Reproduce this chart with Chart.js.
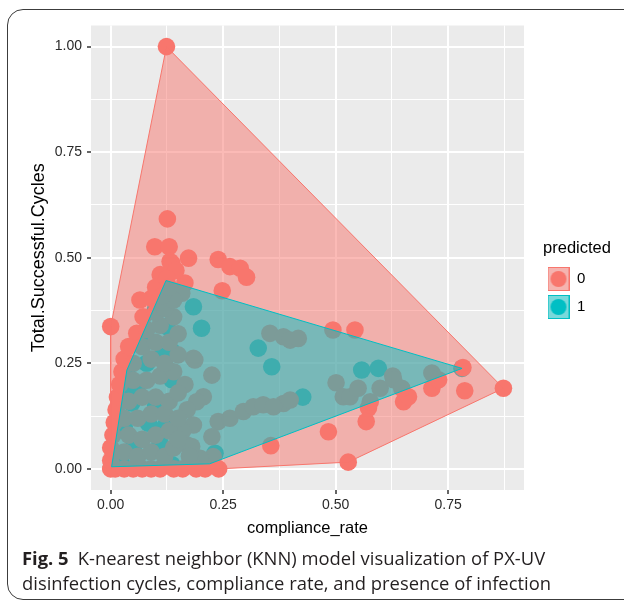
<!DOCTYPE html>
<html>
<head>
<meta charset="utf-8">
<script src="https://cdn.jsdelivr.net/npm/chart.js@4/dist/chart.umd.min.js"></script>
<style>
    body { margin: 0; background: #fff; }
    .page { position: relative; width: 624px; height: 605px; overflow: hidden; }
    .frame {
        position: absolute; left: 7px; top: 9px; width: 700px; height: 591px;
        border: 1.5px solid #3c3c3c; border-radius: 16px 0 0 16px; box-sizing: border-box;
    }
    #knnChart { position: absolute; left: 0; top: 0; }
    .caption {
        position: absolute; left: 22px; top: 545px;
        font-family: "Open Sans", "Noto Sans", sans-serif; font-size: 18.4px; line-height: 25px;
        color: #231f20; white-space: nowrap;
    }
    .caption b { font-weight: 700; }
</style>
</head>
<body>
<div class="page">
    <div class="frame"></div>
    <canvas id="knnChart" width="624" height="605"></canvas>
    <div class="caption"><b>Fig. 5</b>&ensp;K-nearest neighbor (KNN) model visualization of PX-UV<br>disinfection cycles, compliance rate, and presence of infection</div>
</div>
<script>
// Axis ticks
const xTicks = [0, 0.125, 0.25, 0.375, 0.5, 0.625, 0.75, 0.875];
const xTickLabels = ['0.00', '', '0.25', '', '0.50', '', '0.75', ''];
const yTicks = [0, 0.125, 0.25, 0.375, 0.5, 0.625, 0.75, 0.875, 1];
const yTickLabels = ['0.00', '', '0.25', '', '0.50', '', '0.75', '', '1.00'];

// Classes
const classes = ['0', '1'];
const classColors = ['#F8766D', '#00BFC4'];

// predicted = 0  [compliance_rate, Total.Successful.Cycles]
const predicted0 = [
    [0.124, 1.0], [0.126, 0.592], [0.098, 0.526], [0.13, 0.526], [0.132, 0.491], [0.136, 0.487],
    [0.173, 0.499], [0.239, 0.496], [0.265, 0.479], [0.288, 0.475], [0.302, 0.454], [0.165, 0.44],
    [0.248, 0.422], [0.091, 0.404], [0.065, 0.40], [0.072, 0.36], [0.0, 0.337], [0.058, 0.321],
    [0.11, 0.46], [0.145, 0.47], [0.1, 0.43], [0.125, 0.451],
    [0.543, 0.329], [0.714, 0.191], [0.787, 0.185], [0.873, 0.191], [0.651, 0.159], [0.662, 0.171],
    [0.573, 0.144], [0.568, 0.112], [0.484, 0.088], [0.528, 0.016], [0.356, 0.055],
    [0.494, 0.329], [0.354, 0.321], [0.384, 0.313], [0.399, 0.305], [0.417, 0.309], [0.501, 0.204],
    [0.517, 0.171], [0.532, 0.171], [0.55, 0.191], [0.577, 0.159], [0.599, 0.191], [0.627, 0.22],
    [0.629, 0.211], [0.647, 0.191], [0.714, 0.227], [0.729, 0.211], [0.783, 0.24], [0.384, 0.155],
    [0.184, 0.262], [0.225, 0.222], [0.206, 0.171], [0.191, 0.159], [0.184, 0.104], [0.239, 0.112],
    [0.265, 0.12], [0.295, 0.136], [0.317, 0.147], [0.339, 0.152], [0.362, 0.147], [0.399, 0.163],
    [0.225, 0.076], [0.169, 0.057], [0.228, 0.029], [0.199, 0.025], [0.158, 0.416], [0.187, 0.258],
    [0.18, 0.053], [0.165, 0.2], [0.17, 0.14], [0.16, 0.09], [0.175, 0.03],
    [0.0, 0.0], [0.0, 0.02], [0.0, 0.05], [0.005, 0.08], [0.008, 0.11], [0.012, 0.14], [0.015, 0.17],
    [0.02, 0.2], [0.025, 0.23], [0.03, 0.26], [0.04, 0.29],
    [0.01, 0.0], [0.03, 0.0], [0.05, 0.0], [0.07, 0.0], [0.09, 0.0], [0.11, 0.0], [0.14, 0.0],
    [0.16, 0.0], [0.19, 0.0], [0.21, 0.0], [0.24, 0.0],
    [0.03, 0.04], [0.06, 0.03], [0.09, 0.04], [0.12, 0.03], [0.14, 0.05],
    [0.04, 0.08], [0.07, 0.07], [0.1, 0.08], [0.13, 0.09], [0.15, 0.07],
    [0.03, 0.12], [0.06, 0.12], [0.09, 0.13], [0.12, 0.13], [0.15, 0.12],
    [0.04, 0.16], [0.07, 0.17], [0.1, 0.17], [0.13, 0.16], [0.15, 0.18],
    [0.05, 0.21], [0.08, 0.21], [0.11, 0.22], [0.14, 0.23],
    [0.05, 0.25], [0.09, 0.26], [0.12, 0.25], [0.15, 0.27],
    [0.07, 0.29], [0.1, 0.3], [0.13, 0.3], [0.15, 0.32],
    [0.08, 0.33], [0.11, 0.34], [0.14, 0.36],
    [0.1, 0.37], [0.12, 0.38], [0.14, 0.4],
    [0.115, 0.41], [0.13, 0.43]
];

// predicted = 1
const predicted1 = [
    [0.002, 0.005], [0.036, 0.234], [0.123, 0.446], [0.781, 0.238], [0.22, 0.012],
    [0.202, 0.333], [0.328, 0.286], [0.358, 0.242], [0.558, 0.234], [0.595, 0.238], [0.427, 0.17],
    [0.113, 0.266], [0.136, 0.211], [0.039, 0.179], [0.047, 0.156], [0.125, 0.337], [0.084, 0.108],
    [0.184, 0.384], [0.024, 0.013], [0.232, 0.037], [0.136, 0.01], [0.136, 0.278], [0.06, 0.2],
    [0.07, 0.3], [0.1, 0.38], [0.03, 0.1], [0.05, 0.05], [0.1, 0.15], [0.11, 0.06], [0.15, 0.42],
    [0.08, 0.25], [0.02, 0.03], [0.12, 0.1]
];

const toXY = pts => pts.map(([x, y]) => ({ x, y }));

// Convex hull (monotone chain), closed ring
function convexHull(pts) {
    const p = toXY(pts).sort((a, b) => a.x - b.x || a.y - b.y);
    const cross = (o, a, b) => (a.x - o.x) * (b.y - o.y) - (a.y - o.y) * (b.x - o.x);
    const lower = [];
    const upper = [];
    p.forEach(q => {
        while (lower.length >= 2 && cross(lower[lower.length - 2], lower[lower.length - 1], q) <= 0) lower.pop();
        lower.push(q);
    });
    p.slice().reverse().forEach(q => {
        while (upper.length >= 2 && cross(upper[upper.length - 2], upper[upper.length - 1], q) <= 0) upper.pop();
        upper.push(q);
    });
    lower.pop();
    upper.pop();
    const ring = lower.concat(upper);
    ring.push(ring[0]);
    return ring;
}

function alpha(hex, a) {
    const n = parseInt(hex.slice(1), 16);
    return `rgba(${(n >> 16) & 255}, ${(n >> 8) & 255}, ${n & 255}, ${a})`;
}

// Legend key: polygon box with a dot on top
function keyImage(color) {
    const c = document.createElement('canvas');
    c.width = 22;
    c.height = 24;
    const g = c.getContext('2d');
    g.fillStyle = '#F2F2F2';
    g.fillRect(0, 0, 22, 24);
    g.fillStyle = alpha(color, 0.5);
    g.fillRect(0.5, 0.5, 21, 23);
    g.strokeStyle = color;
    g.lineWidth = 1;
    g.strokeRect(0.5, 0.5, 21, 23);
    g.beginPath();
    g.arc(11, 12, 8, 0, Math.PI * 2);
    g.fillStyle = color;
    g.fill();
    return c;
}

const sans = '"Liberation Sans", Arial, sans-serif';
const textColor = '#2a2a2a';

const panelBg = {
    id: 'panelBg',
    beforeDraw(chart) {
        const { ctx, chartArea: a } = chart;
        ctx.save();
        ctx.fillStyle = '#EBEBEB';
        ctx.fillRect(a.left, a.top, a.width, a.height);
        ctx.restore();
    }
};

// push the legend away from the panel like ggplot does
const legendNudge = {
    id: 'legendNudge',
    afterLayout(chart) {
        const lg = chart.legend;
        lg.left = 534.5;
        lg.width = 85;
        lg.right = lg.left + lg.width;
    }
};

const pointSet = (i, order) => ({
    type: 'scatter',
    label: classes[i],
    data: toXY(i === 0 ? predicted0 : predicted1),
    backgroundColor: classColors[i],
    borderWidth: 0,
    pointRadius: 8.8,
    order
});

const hullSet = (i, order) => ({
    type: 'line',
    label: 'hull ' + classes[i],
    data: convexHull(i === 0 ? predicted0 : predicted1),
    borderColor: classColors[i],
    borderWidth: 1,
    backgroundColor: alpha(classColors[i], 0.5),
    fill: 'shape',
    pointRadius: 0,
    tension: 0,
    order
});

const isMajorX = c => !!xTickLabels[c.index];
const isMajorY = c => !!yTickLabels[c.index];

new Chart(document.getElementById('knnChart'), {
    type: 'scatter',
    data: {
        datasets: [hullSet(1, 0), hullSet(0, 1), pointSet(0, 2), pointSet(1, 3)]
    },
    options: {
        responsive: false,
        animation: false,
        devicePixelRatio: 1,
        layout: { padding: { left: 28.2, top: 25.5, right: 45, bottom: 67.1 } },
        scales: {
            x: {
                type: 'linear',
                min: -0.04375,
                max: 0.91875,
                afterBuildTicks: s => { s.ticks = xTicks.map(v => ({ value: v })); },
                afterFit: s => { s.height = 47.9; },
                border: { display: false },
                grid: {
                    color: '#FFFFFF',
                    lineWidth: c => isMajorX(c) ? 2 : 1,
                    tickLength: 4,
                    tickWidth: 1.5,
                    tickColor: c => isMajorX(c) ? '#333333' : 'rgba(0,0,0,0)'
                },
                ticks: {
                    autoSkip: false,
                    maxRotation: 0,
                    padding: 3,
                    color: textColor,
                    font: { family: sans, size: 14 },
                    callback: (v, i) => xTickLabels[i]
                },
                title: {
                    display: true,
                    text: 'compliance_rate',
                    color: '#000000',
                    padding: 0,
                    font: { family: sans, size: 16.5 }
                }
            },
            y: {
                type: 'linear',
                min: -0.05,
                max: 1.05,
                afterBuildTicks: s => { s.ticks = yTicks.map(v => ({ value: v })); },
                afterFit: s => { s.width = 62.8; },
                border: { display: false },
                grid: {
                    color: '#FFFFFF',
                    lineWidth: c => isMajorY(c) ? 2 : 1,
                    tickLength: 4,
                    tickWidth: 1.5,
                    tickColor: c => isMajorY(c) ? '#333333' : 'rgba(0,0,0,0)'
                },
                ticks: {
                    autoSkip: false,
                    padding: 5,
                    color: textColor,
                    font: { family: sans, size: 14 },
                    callback: (v, i) => yTickLabels[i]
                },
                title: {
                    display: true,
                    text: 'Total.Successful.Cycles',
                    color: '#000000',
                    padding: 0,
                    font: { family: sans, size: 18 }
                }
            }
        },
        plugins: {
            tooltip: { enabled: false },
            legend: {
                position: 'right',
                align: 'center',
                maxWidth: 55,
                title: {
                    display: true,
                    text: 'predicted',
                    position: 'center',
                    color: '#000000',
                    padding: { top: 4.5, bottom: 0 },
                    font: { family: sans, size: 16.5, lineHeight: 1.09 }
                },
                labels: {
                    usePointStyle: true,
                    pointStyleWidth: 22,
                    padding: 13,
                    color: textColor,
                    font: { family: sans, size: 15 },
                    generateLabels: () => classes.map((c, i) => ({
                        text: c,
                        pointStyle: keyImage(classColors[i]),
                        fillStyle: classColors[i],
                        strokeStyle: classColors[i],
                        lineWidth: 0,
                        hidden: false,
                        datasetIndex: 2 + i
                    }))
                }
            }
        }
    },
    plugins: [panelBg, legendNudge]
});
</script>
</body>
</html>
